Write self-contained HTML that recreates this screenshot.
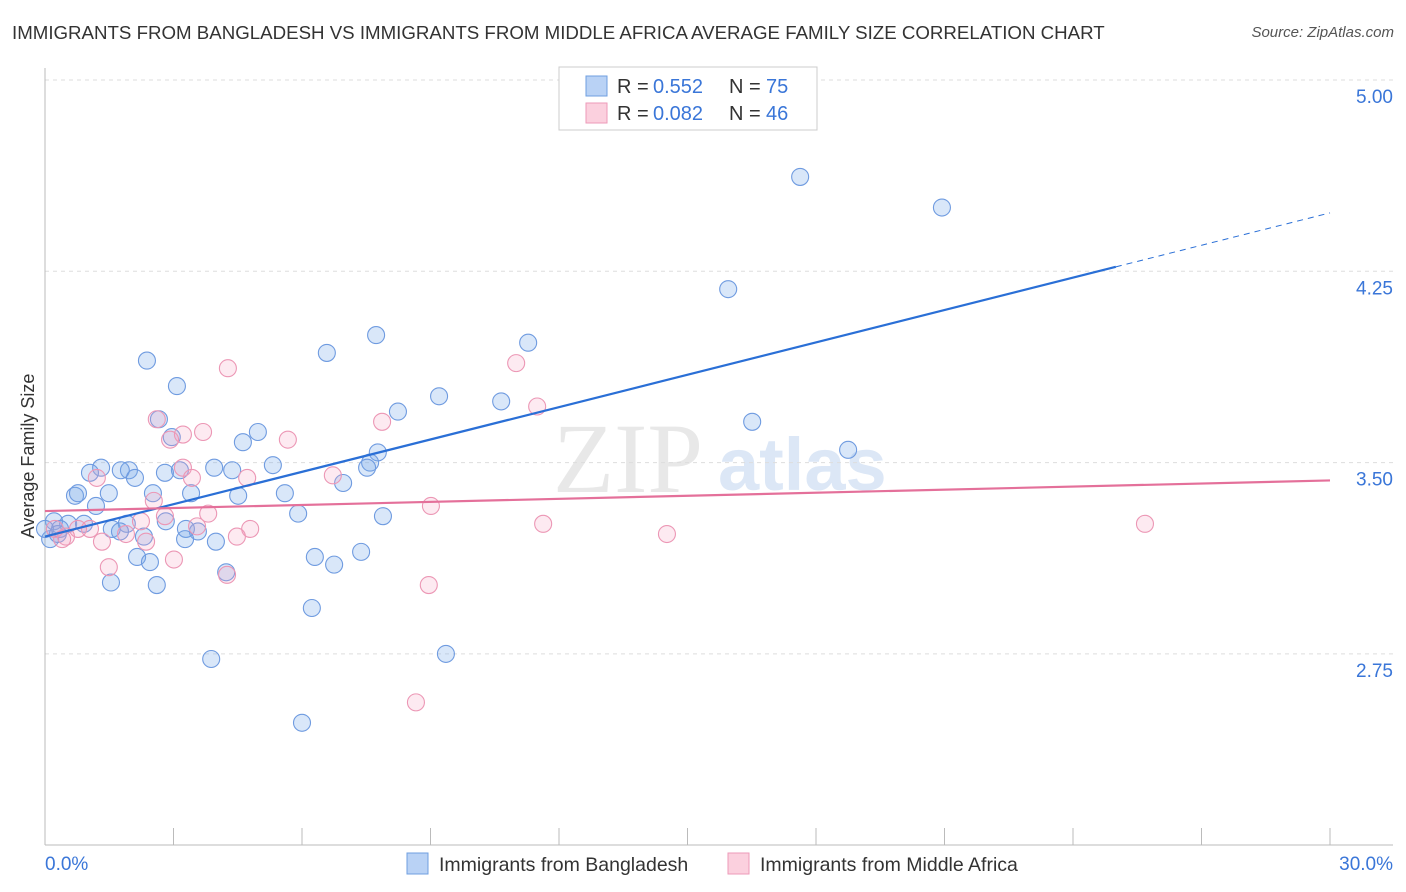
<!DOCTYPE html>
<html><head><meta charset="utf-8"><style>
body{margin:0;background:#fff;font-family:"Liberation Sans",sans-serif;}
#wrap{position:relative;width:1406px;height:892px;overflow:hidden;}
.t{position:absolute;white-space:nowrap;}
</style></head><body>
<div id="wrap">
<div class="t" style="left:12px;top:22px;font-size:18.7px;color:#333;">IMMIGRANTS FROM BANGLADESH VS IMMIGRANTS FROM MIDDLE AFRICA AVERAGE FAMILY SIZE CORRELATION CHART</div>
<div class="t" style="right:12px;top:24px;font-size:15px;color:#555;font-style:italic;">Source: ZipAtlas.com</div>
<svg id="svg" width="1406" height="892" style="position:absolute;left:0;top:0"></svg>
</div>
<script>
const xTicks=[0,3,6,9,12,15,18,21,24,27,30];
const yTicks=[2.75,3.50,4.25,5.00];
const yTickLabels=["2.75","3.50","4.25","5.00"];
const blueX=[17.63,20.94,15.95,7.73,11.28,6.58,2.38,3.08,9.20,10.65,8.24,16.51,2.66,4.97,2.96,4.62,18.75,7.77,7.59,3.95,5.32,7.52,1.31,1.96,1.77,3.15,1.05,2.80,4.37,2.10,6.96,0.70,0.77,1.49,2.52,3.41,4.51,5.60,1.19,5.91,7.89,2.82,0.54,0.91,1.91,0.21,1.56,3.29,3.57,1.75,2.31,3.27,3.99,0.12,0.35,6.30,7.38,2.15,2.45,6.75,4.23,1.54,2.61,6.23,9.36,3.88,6.00,0.0,0.30];
const blueY=[4.62,4.50,4.18,4.00,3.97,3.93,3.90,3.80,3.76,3.74,3.70,3.66,3.67,3.62,3.60,3.58,3.55,3.54,3.50,3.48,3.49,3.48,3.48,3.47,3.47,3.47,3.46,3.46,3.47,3.44,3.42,3.37,3.38,3.38,3.38,3.38,3.37,3.38,3.33,3.30,3.29,3.27,3.26,3.26,3.26,3.27,3.24,3.24,3.23,3.23,3.21,3.20,3.19,3.20,3.24,3.13,3.15,3.13,3.11,3.10,3.07,3.03,3.02,2.93,2.75,2.73,2.48,3.24,3.22];
const pinkX=[11.0,4.27,11.49,7.87,2.61,3.69,3.22,2.92,5.67,3.22,6.72,3.43,4.72,1.21,2.54,9.01,3.81,2.80,2.24,11.63,25.68,3.55,4.79,1.05,4.48,14.52,0.77,0.49,2.36,1.33,1.89,3.01,1.49,4.25,8.96,8.66,0.23,0.40];
const pinkY=[3.89,3.87,3.72,3.66,3.67,3.62,3.61,3.59,3.59,3.48,3.45,3.44,3.44,3.44,3.35,3.33,3.30,3.29,3.27,3.26,3.26,3.25,3.24,3.24,3.21,3.22,3.24,3.21,3.19,3.19,3.22,3.12,3.09,3.06,3.02,2.56,3.24,3.20];
const blueLine=[3.21,0.0423];
const pinkLine=[3.31,0.0040];
const blueSolidEnd=25;
const NS="http://www.w3.org/2000/svg";
const svg=document.getElementById('svg');
const X=v=>45+v/30*1285;
const Y=v=>80+(5-v)*255.07;
function mk(tag,attrs){const e=document.createElementNS(NS,tag);for(const k in attrs)e.setAttribute(k,attrs[k]);svg.appendChild(e);return e;}
const wm=mk('text',{x:553,y:492,'font-size':100,fill:'#e8e8e8','font-family':'Liberation Serif'});wm.textContent='ZIP';


const wm2=mk('text',{x:718,y:490,'font-size':74,fill:'#dce7f6','font-weight':'bold'});wm2.textContent='atlas';


yTicks.forEach((v,i)=>{
 const g=mk('line',{x1:45,x2:1393,y1:Y(v),y2:Y(v),stroke:'#ddd','stroke-dasharray':'4,4'});
 
 
 const t=mk('text',{x:1393,y:Y(v)+23,'text-anchor':'end','font-size':19,fill:'#3a76d8'});
 t.textContent=yTickLabels[i];
 
 
});
const ax=mk('line',{x1:45,x2:1393,y1:845,y2:845,stroke:'#bbb'});


const ay=mk('line',{x1:45,x2:45,y1:68,y2:845,stroke:'#bbb'});


xTicks.forEach(v=>{const l=mk('line',{x1:X(v),x2:X(v),y1:828,y2:845,stroke:'#bbb'});
 
 });
const x0=mk('text',{x:45,y:870,'font-size':19,fill:'#3a76d8'});x0.textContent='0.0%';


const x1=mk('text',{x:1393,y:870,'font-size':19,fill:'#3a76d8','text-anchor':'end'});x1.textContent='30.0%';


const yt=mk('text',{x:34,y:456,'font-size':18,fill:'#333','text-anchor':'middle',transform:'rotate(-90 34 456)'});yt.textContent='Average Family Size';


blueX.forEach((v,i)=>{const c=mk('circle',{cx:X(v),cy:Y(blueY[i]),r:8.5,fill:'rgba(120,170,235,0.28)',stroke:'#6f9be0','stroke-width':1.1});
 
 });
pinkX.forEach((v,i)=>{const c=mk('circle',{cx:X(v),cy:Y(pinkY[i]),r:8.5,fill:'rgba(245,160,190,0.22)',stroke:'#ec97b5','stroke-width':1.1});
 
 });
const bl=mk('line',{x1:X(0),y1:Y(blueLine[0]),x2:X(blueSolidEnd),y2:Y(blueLine[0]+blueLine[1]*blueSolidEnd),stroke:'#2a6fd6','stroke-width':2.2});


const bd=mk('line',{x1:X(blueSolidEnd),y1:Y(blueLine[0]+blueLine[1]*blueSolidEnd),x2:X(30),y2:Y(blueLine[0]+blueLine[1]*30),stroke:'#2a6fd6','stroke-width':1,'stroke-dasharray':'6,5'});


const pl=mk('line',{x1:X(0),y1:Y(pinkLine[0]),x2:X(30),y2:Y(pinkLine[0]+pinkLine[1]*30),stroke:'#e4709a','stroke-width':2.2});


// top legend
const lb=mk('rect',{x:559,y:67,width:258,height:63,fill:'#fff',stroke:'#ccc'});


[[86,'#b9d2f5','#6f9fe0','0.552','75'],[113,'#fbd0de','#ee9ab8','0.082','46']].forEach(r=>{
 const s=mk('rect',{x:586,y:r[0]-10,width:21,height:20,fill:r[1],stroke:r[2]});
 
 
 const parts=[[617,'R =','#333'],[653,r[3],'#3a76d8'],[729,'N =','#333'],[766,r[4],'#3a76d8']];
 parts.forEach(p=>{
  const t=mk('text',{x:p[0],y:r[0]+7,'font-size':20,fill:p[2]});
  t.textContent=p[1];
  
  
 });
});
// bottom legend
[[407,'#b9d2f5','#6f9fe0','Immigrants from Bangladesh'],[728,'#fbd0de','#ee9ab8','Immigrants from Middle Africa']].forEach(r=>{
 const s=mk('rect',{x:r[0],y:853,width:21,height:21,fill:r[1],stroke:r[2]});
 
 
 const t=mk('text',{x:r[0]+32,y:871,'font-size':19.5,fill:'#333'});
 t.textContent=r[3];
 
 
});
</script>
</body></html>
